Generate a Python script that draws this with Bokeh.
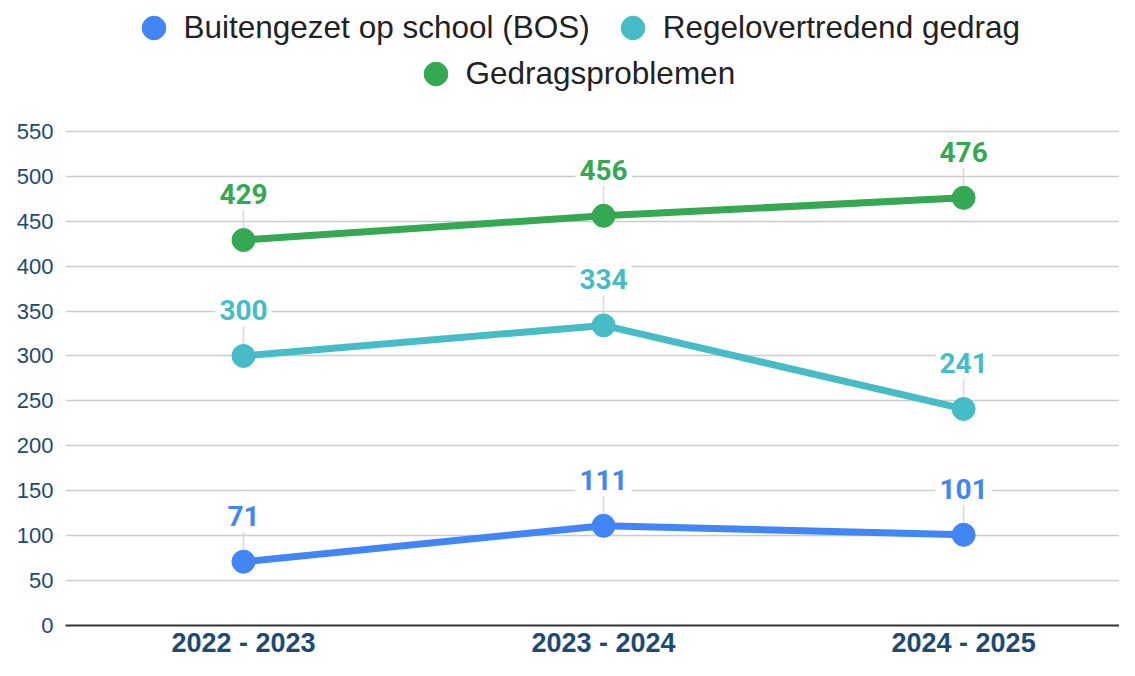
from bokeh.plotting import figure
from bokeh.models import Range1d, FixedTicker, Legend, LegendItem
from bokeh.core.properties import value
from bokeh.embed import file_html
from bokeh.resources import INLINE

# ---- data ----
categories = ["2022 - 2023", "2023 - 2024", "2024 - 2025"]
series_names = ["Buitengezet op school (BOS)", "Regelovertredend gedrag", "Gedragsproblemen"]
bos = [71, 111, 101]
regelovertredend = [300, 334, 241]
gedragsproblemen = [429, 456, 476]
colors = ["#4285F4", "#46BDC6", "#34A853"]
y_ticks = [0, 50, 100, 150, 200, 250, 300, 350, 400, 450, 500, 550]

series = [bos, regelovertredend, gedragsproblemen]
xs = list(range(len(categories)))

AXIS_COLOR = "#1c4a72"

p = figure(width=1119, height=660, output_backend="svg", toolbar_location=None,
           x_range=Range1d(-0.4944, 2.433), y_range=Range1d(0, 695.6),
           min_border_left=65, min_border_right=0, min_border_top=0, min_border_bottom=33)
p.outline_line_color = None
p.background_fill_color = "white"
p.border_fill_color = "white"

# grid
p.xgrid.grid_line_color = None
p.ygrid.ticker = FixedTicker(ticks=y_ticks)
p.ygrid.grid_line_color = "#cccccc"
p.ygrid.grid_line_width = 1.5

# y axis
p.yaxis.ticker = FixedTicker(ticks=y_ticks)
p.yaxis.axis_line_color = None
p.yaxis.major_tick_line_color = None
p.yaxis.minor_tick_line_color = None
p.yaxis.major_tick_out = 0
p.yaxis.major_label_standoff = 12
p.yaxis.major_label_text_font = "Liberation Sans"
p.yaxis.major_label_text_font_size = "22px"
p.yaxis.major_label_text_color = AXIS_COLOR

# x axis
p.xaxis.ticker = FixedTicker(ticks=xs)
p.xaxis.major_label_overrides = {i: c for i, c in zip(xs, categories)}
p.xaxis.axis_line_color = "#333333"
p.xaxis.axis_line_width = 2
p.xaxis.major_tick_line_color = None
p.xaxis.minor_tick_line_color = None
p.xaxis.major_tick_out = 0
p.xaxis.major_tick_in = 0
p.xaxis.major_label_standoff = 2
p.xaxis.major_label_text_font = "Liberation Sans"
p.xaxis.major_label_text_font_style = "bold"
p.xaxis.major_label_text_font_size = "27px"
p.xaxis.major_label_text_color = AXIS_COLOR

point_renderers = []
for vals, col in zip(series, colors):
    # leader lines from point to label
    p.segment(x0=xs, y0=vals, x1=xs, y1=[v + 33 for v in vals],
              line_color="#d9d9d9", line_width=1.5)
for vals, col in zip(series, colors):
    p.line(xs, vals, line_color=col, line_width=7, line_join="round", line_cap="round")
    r = p.scatter(xs, vals, size=23, fill_color=col, line_color=col)
    point_renderers.append(r)
    p.text(x=xs, y=vals, text=[str(v) for v in vals],
           text_font=value("Roboto"), text_font_style="bold", text_font_size="28px",
           text_color=col, text_align="center", text_baseline="alphabetic",
           y_offset=-46, background_fill_color="white", padding=4)

common = dict(orientation="horizontal", padding=0, margin=0, spacing=13,
              border_line_color=None, background_fill_alpha=0,
              glyph_width=59, glyph_height=59, label_standoff=1,
              label_text_font="Liberation Sans", label_text_font_size="31.5px",
              label_text_color="#222222")

legend1 = Legend(items=[LegendItem(label=series_names[0], renderers=[point_renderers[0]]),
                        LegendItem(label=series_names[1], renderers=[point_renderers[1]])],
                 location=(58.5, 568.5), **common)
legend2 = Legend(items=[LegendItem(label=series_names[2], renderers=[point_renderers[2]])],
                 location=(340.5, 522.5), **common)
p.add_layout(legend1)
p.add_layout(legend2)

open("out.html", "w").write(file_html(p, INLINE))
